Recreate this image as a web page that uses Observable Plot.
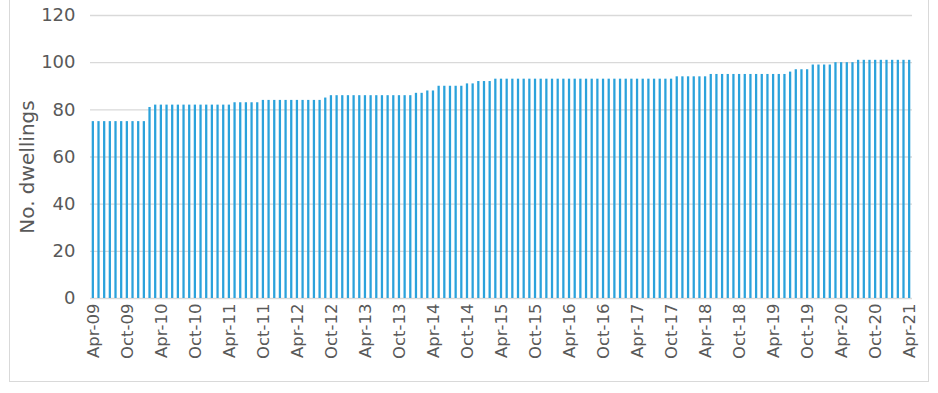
<!DOCTYPE html>
<html>
<head>
<meta charset="utf-8">
<script src="https://cdn.jsdelivr.net/npm/d3@7"></script>
<script src="https://cdn.jsdelivr.net/npm/@observablehq/plot@0.6"></script>
<style>
  html, body { margin: 0; padding: 0; background: #ffffff; }
  #wrap { position: relative; width: 938px; height: 393px; overflow: hidden; font-family: 'Century Gothic', 'DejaVu Sans', sans-serif; }
  #frame { position: absolute; left: 9px; top: -2px; width: 920px; height: 384px; border: 1px solid #d9d9d9; box-sizing: border-box; }
  #chart { position: absolute; left: 0; top: 0; }
  #ytitle { position: absolute; left: 27px; top: 167px; transform: translate(-50%, -50%) rotate(-90deg); white-space: nowrap; font-size: 20px; color: #595959; line-height: 1; }
</style>
</head>
<body>
<div id="wrap">
  <div id="frame"></div>
  <div id="chart"></div>
  <div id="ytitle"></div>
</div>
<script>
// Monthly categories Apr-09 .. Apr-21
const startMonth = new Date(Date.UTC(2009, 3, 1));
const endMonth = new Date(Date.UTC(2021, 4, 1));
const months = d3.utcMonth.range(startMonth, endMonth).map(d3.utcFormat("%b-%y"));

// Number of dwellings per month
const dwellings = [
  75, 75, 75, 75, 75, 75, 75, 75, 75, 75,
  81,
  82, 82, 82, 82, 82, 82, 82, 82, 82, 82, 82, 82, 82, 82,
  83, 83, 83, 83, 83,
  84, 84, 84, 84, 84, 84, 84, 84, 84, 84, 84,
  85,
  86, 86, 86, 86, 86, 86, 86, 86, 86, 86, 86, 86, 86, 86, 86,
  87, 87,
  88, 88,
  90, 90, 90, 90, 90,
  91, 91,
  92, 92, 92,
  93, 93, 93, 93, 93, 93, 93, 93, 93, 93, 93, 93, 93, 93, 93, 93,
  93, 93, 93, 93, 93, 93, 93, 93, 93, 93, 93, 93, 93, 93, 93, 93,
  94, 94, 94, 94, 94, 94,
  95, 95, 95, 95, 95, 95, 95, 95, 95, 95, 95, 95, 95, 95,
  96,
  97, 97, 97,
  99, 99, 99, 99,
  100, 100, 100, 100,
  101, 101, 101, 101, 101, 101, 101, 101, 101, 101
];

const xTickLabels = [
  "Apr-09", "Oct-09", "Apr-10", "Oct-10", "Apr-11", "Oct-11", "Apr-12", "Oct-12",
  "Apr-13", "Oct-13", "Apr-14", "Oct-14", "Apr-15", "Oct-15", "Apr-16", "Oct-16",
  "Apr-17", "Oct-17", "Apr-18", "Oct-18", "Apr-19", "Oct-19", "Apr-20", "Oct-20", "Apr-21"
];
const yTicks = [0, 20, 40, 60, 80, 100, 120];
const yTitle = "No. dwellings";

document.getElementById("ytitle").textContent = yTitle;

const data = months.map((m, i) => ({month: m, value: dwellings[i]}));

const font = "'Century Gothic', 'DejaVu Sans', sans-serif";

const chart = Plot.plot({
  width: 938,
  height: 393,
  marginLeft: 90,
  marginRight: 26,
  marginTop: 15,
  marginBottom: 95,
  style: {fontFamily: font, fontSize: "16px", color: "#595959", background: "transparent", overflow: "visible"},
  x: {type: "band", domain: months, paddingInner: 0.6, paddingOuter: 0.3},
  y: {domain: [0, 120]},
  marks: [
    Plot.ruleY(yTicks, {stroke: "#d9d9d9", strokeWidth: 1.3}),
    Plot.barY(data, {x: "month", y: "value", fill: "#2ba2db"}),
    Plot.axisY({ticks: yTicks, tickSize: 0, tickPadding: 15, label: null, fontSize: 18, fill: "#595959"}),
    Plot.axisX({ticks: xTickLabels, tickRotate: -90, tickSize: 0, tickPadding: 5, label: null, fontSize: 16.5, fill: "#595959"})
  ]
});

document.getElementById("chart").appendChild(chart);
</script>
</body>
</html>
